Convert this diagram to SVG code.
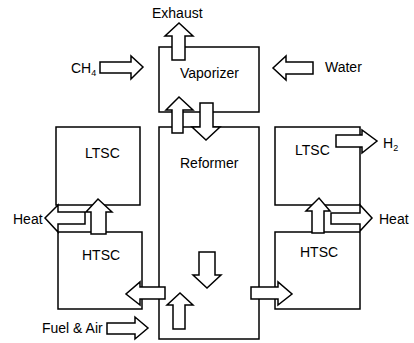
<svg xmlns="http://www.w3.org/2000/svg" width="414" height="343" viewBox="0 0 414 343">
<style>
.box{fill:none;stroke:#000;stroke-width:1.5}
.arr{fill:#fff;stroke:#000;stroke-width:1.5;stroke-linejoin:miter}
text{font-family:"Liberation Sans",Arial,sans-serif;font-size:14px;fill:#000}
.sub{font-size:9px}
</style>
<rect width="414" height="343" fill="#fff"/>
<g id="vaporizer"><rect class="box" x="159" y="47" width="100" height="65"/><text x="180" y="78">Vaporizer</text></g>
<g id="reformer"><rect class="box" x="159" y="127" width="100" height="212"/><text x="180" y="168">Reformer</text></g>
<g id="ltsc-left"><rect class="box" x="56" y="127" width="84" height="78"/><text x="85" y="158">LTSC</text></g>
<g id="htsc-left"><rect class="box" x="58" y="232" width="84" height="77"/><text x="82" y="260">HTSC</text></g>
<g id="ltsc-right"><rect class="box" x="275" y="127" width="85" height="78"/><text x="295" y="155">LTSC</text></g>
<g id="htsc-right"><rect class="box" x="275" y="232" width="85" height="77"/><text x="300" y="257">HTSC</text></g>
<g id="connectors">
<polygon class="arr" points="172,60 172,36 165,36 179,23 193,36 185,36 185,60"/>
<text x="152" y="18">Exhaust</text>
<polygon class="arr" points="100,62 131,62 131,56 143,67 131,79 131,73 100,73"/>
<text x="71" y="73">CH<tspan class="sub" dy="3">4</tspan></text>
<polygon class="arr" points="313,62 286,62 286,56 273,68 286,80 286,74 313,74"/>
<text x="325" y="72">Water</text>
<polygon class="arr" points="172,133 172,110 166,110 179,97 193,110 183,110 183,133"/>
<polygon class="arr" points="200,103 213,103 213,127 220,127 206,140 192,127 200,127"/>
<polygon class="arr" points="336,135 362,135 362,130 377,141 362,153 362,147 336,147"/>
<text x="383" y="148">H<tspan class="sub" dy="3">2</tspan></text>
<polygon class="arr" points="85,212 58,212 58,205 45,218 58,232 58,224 85,224"/>
<polygon class="arr" points="91,234 91,212 86,212 98,199 112,212 106,212 106,234"/>
<text x="13" y="224">Heat</text>
<polygon class="arr" points="312,233 312,211 306,211 319,198 330,211 324,211 324,233"/>
<polygon class="arr" points="331,213 360,213 360,205 372,218 360,231 360,224 331,224"/>
<text x="379" y="224">Heat</text>
<polygon class="arr" points="165,287 140,287 140,282 126,294 140,305 140,299 165,299"/>
<polygon class="arr" points="173,329 173,305 167,305 180,293 193,305 185,305 185,329"/>
<polygon class="arr" points="199,252 215,252 215,275 221,275 207,288 193,275 199,275"/>
<polygon class="arr" points="251,287 278,287 278,282 292,294 278,305 278,299 251,299"/>
<polygon class="arr" points="107,323 135,323 135,317 148,328 135,339 135,334 107,334"/>
<text x="42" y="333">Fuel &amp; Air</text>
</g>
</svg>
